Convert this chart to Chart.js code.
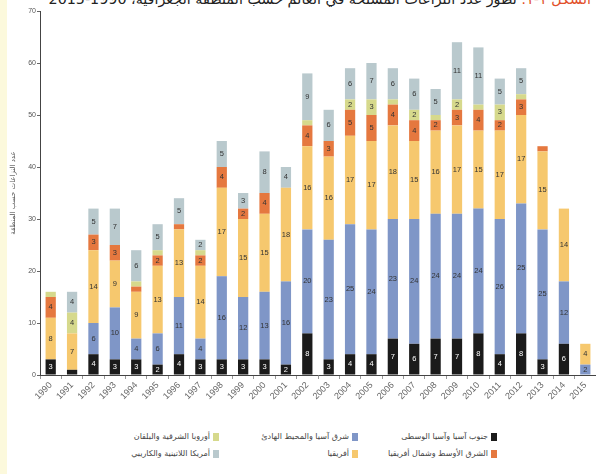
<!DOCTYPE html>
<html>
<head>
<meta charset="utf-8">
<script src="https://cdn.jsdelivr.net/npm/chart.js@4"></script>
<style>
body{margin:0;width:596px;height:474px;overflow:hidden;background:#fff;position:relative;font-family:"DejaVu Sans",sans-serif}
#strip{position:absolute;left:0;top:0;width:7px;height:474px;background:#fcf9dc}
#title{position:absolute;top:-9px;right:5px;direction:rtl;font-size:14.3px;color:#222;white-space:nowrap}
#title span{color:#e2502a}
#wrap{position:absolute;left:0;top:0;width:596px;height:420px}
.leg{position:absolute;direction:rtl;display:flex;align-items:center;font-size:8px;color:#444;white-space:nowrap}
.leg i{display:inline-block;width:6px;height:8px;margin-left:3px}
</style>
</head>
<body>
<div id="strip"></div>
<div id="title"><span>الشكل ١-١:</span> تطور عدد النزاعات المسلحة في العالم حسب المنطقة الجغرافية، 1990-2015</div>
<div id="wrap"><canvas id="myChart" width="596" height="420"></canvas></div>
<div id="legend"></div>
<script>
'use strict'

let years=['1990','1991','1992','1993','1994','1995','1996','1997','1998','1999','2000','2001','2002',
'2003','2004','2005','2006','2007','2008','2009','2010','2011','2012','2013','2014','2015'];

// stacked from bottom to top
let southAsia =[3,1,4,3,3,2,4,3,3,3,3,2,8,3,4,4,7,6,7,7,8,4,8,3,6,0];
let eastAsia  =[0,0,6,10,4,6,11,4,16,12,13,16,20,23,25,24,23,24,24,24,24,26,25,25,12,2];
let africa    =[8,7,14,9,9,13,13,14,17,15,15,18,16,16,17,17,18,15,16,17,15,17,17,15,14,4];
let middleEast=[4,0,3,3,1,2,1,2,4,2,4,0,4,3,5,5,4,4,2,3,4,2,3,1,0,0];
let europe    =[1,4,0,0,1,1,0,1,0,0,0,0,1,0,2,3,1,2,1,2,1,3,1,0,0,0];
let americas  =[0,4,5,7,6,5,5,2,5,3,8,4,9,6,6,7,6,6,5,11,11,5,5,0,0,0];

let yTicks=[0,10,20,30,40,50,60,70];

let seriesNames=['جنوب آسيا وآسيا الوسطى','شرق آسيا والمحيط الهادئ','أفريقيا',
'الشرق الأوسط وشمال أفريقيا','أوروبا الشرقية والبلقان','أمريكا اللاتينية والكاريبي'];
let seriesData=[southAsia,eastAsia,africa,middleEast,europe,americas];
let seriesColors=['#1b1b1b','#7f96c7','#f6c86e','#e5783f','#d6d98c','#b9c9cd'];
// legend grid: [row, col] for every series (col 0 = right)
let legendPlace=[[0,0],[0,1],[1,1],[1,0],[0,2],[1,2]];

let datasets=[];
for(let i=0;i<seriesData.length;i++){
    datasets.push({
        label:seriesNames[i],
        data:seriesData[i],
        backgroundColor:seriesColors[i],
        barPercentage:0.48,
        categoryPercentage:1
    });
}

// numbers inside the segments
let segmentLabels={
    id:'segmentLabels',
    afterDatasetsDraw(chart){
        let ctx=chart.ctx;
        ctx.save();
        ctx.font='7.5px "Liberation Sans", Arial, sans-serif';
        ctx.textAlign='center';
        ctx.textBaseline='middle';
        chart.data.datasets.forEach((ds,di)=>{
            let meta=chart.getDatasetMeta(di);
            meta.data.forEach((bar,idx)=>{
                let v=ds.data[idx];
                if(!v) return;
                if(Math.abs(bar.base-bar.y)<6) return;
                ctx.fillStyle= di===0 ? '#fff' : '#333';
                ctx.fillText(String(v),bar.x,(bar.y+bar.base)/2);
            });
        });
        ctx.restore();
    }
};

var ctx=document.getElementById('myChart').getContext('2d');
var myChart=new Chart(ctx,{
    type:'bar',
    data:{labels:years,datasets:datasets},
    plugins:[segmentLabels],
    options:{
        responsive:false,
        animation:false,
        layout:{padding:{top:11,right:0,left:0,bottom:0}},
        plugins:{legend:{display:false},tooltip:{enabled:false}},
        scales:{
            x:{
                stacked:true,
                grid:{drawOnChartArea:false,tickLength:4,color:'#999'},
                border:{color:'#444'},
                ticks:{minRotation:45,maxRotation:45,padding:1,color:'#666',
                    font:{size:9,family:'"Liberation Sans", Arial, sans-serif'}},
                afterFit(scale){scale.height=45;}
            },
            y:{
                stacked:true,
                min:0,max:70,
                afterBuildTicks(scale){scale.ticks=yTicks.map(v=>({value:v}));},
                grid:{drawOnChartArea:false,tickLength:3,color:'#666'},
                border:{color:'#444'},
                ticks:{padding:1,color:'#555',font:{size:7,family:'"Liberation Sans", Arial, sans-serif'}},
                title:{display:true,text:'عدد النزاعات حسب المنطقة',color:'#555',
                    font:{size:7,family:'"DejaVu Sans", sans-serif'},padding:{top:9,bottom:0}},
                afterFit(scale){scale.width=40;}
            }
        }
    }
});

// html legend, 2 rows x 3 columns
let legendEl=document.getElementById('legend');
for(let i=0;i<seriesNames.length;i++){
    let item=document.createElement('div');
    item.className='leg';
    item.style.top=(432+legendPlace[i][0]*17)+'px';
    item.style.right=(99+legendPlace[i][1]*139)+'px';
    item.innerHTML='<i style="background:'+seriesColors[i]+'"></i>';
    item.appendChild(document.createTextNode(seriesNames[i]));
    legendEl.appendChild(item);
}
</script>
</body>
</html>
